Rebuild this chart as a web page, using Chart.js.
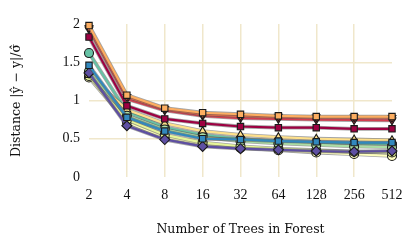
<!DOCTYPE html>
<html><head><meta charset="utf-8">
<script src="https://cdn.jsdelivr.net/npm/chart.js@4/dist/chart.umd.min.js"></script>
<style>html,body{margin:0;padding:0;background:#fff}#wrap{width:415px;height:248px}</style>
</head><body><div id="wrap"><canvas id="c" width="415" height="248"></canvas></div>
<script>
const categories = ['2','4','8','16','32','64','128','256','512'];
const yTicks = [0, 0.5, 1, 1.5, 2];
const s1 = [1.83, 0.93, 0.76, 0.70, 0.66, 0.645, 0.645, 0.63, 0.63];
const s2 = [1.93, 1.02, 0.87, 0.80, 0.77, 0.76, 0.75, 0.745, 0.74];
const s3 = [1.95, 1.05, 0.89, 0.82, 0.80, 0.79, 0.78, 0.78, 0.775];
const s4 = [1.98, 1.07, 0.90, 0.84, 0.82, 0.80, 0.79, 0.79, 0.79];
const s5 = [1.33, 0.88, 0.70, 0.60, 0.55, 0.52, 0.50, 0.49, 0.48];
const s6 = [1.30, 0.72, 0.52, 0.43, 0.38, 0.35, 0.32, 0.30, 0.275];
const s7 = [1.32, 0.75, 0.55, 0.45, 0.40, 0.37, 0.35, 0.33, 0.32];
const s8 = [1.38, 0.80, 0.62, 0.52, 0.47, 0.44, 0.42, 0.40, 0.39];
const s9 = [1.62, 0.85, 0.65, 0.55, 0.50, 0.47, 0.45, 0.44, 0.43];
const s10 = [1.46, 0.78, 0.60, 0.50, 0.49, 0.47, 0.46, 0.45, 0.45];
const s11 = [1.36, 0.67, 0.49, 0.40, 0.37, 0.355, 0.34, 0.33, 0.34];
const seriesValues = [s1,s2,s3,s4,s5,s6,s7,s8,s9,s10,s11];
const seriesColors = ['#9e0142','#d53e4f','#f46d43','#fdae61','#fee08b','#ffffbf','#e6f598','#abdda4','#66c2a5','#3288bd','#5e4fa2'];
const seriesMarkers = ['rect','triangle','triangle','rect','triangle','circle','circle','circle','circle','rect','rectRot'];
const seriesRot = [0,180,180,0,0,0,0,0,0,0,0];
const drawOrder = [3,5,4,0,7,9,8,6,10,1,2]; // lower = on top

const datasets = seriesValues.map((v,i)=>({
  label: 'series ' + (i+1),
  data: v,
  borderColor: seriesColors[i],
  borderWidth: 2.2,
  pointStyle: seriesMarkers[i],
  pointRotation: seriesRot[i],
  pointRadius: seriesMarkers[i]==='rectRot' ? 5 : 4.5,
  pointBackgroundColor: seriesColors[i],
  pointBorderColor: '#1a1a1a',
  pointBorderWidth: 1.1,
  order: drawOrder[i],
  clip: false,
  tension: 0
}));

const outline = {
  id: 'outline',
  beforeDatasetDraw(chart, args) {
    const ctx = chart.ctx, pts = args.meta.data;
    ctx.save();
    ctx.strokeStyle = 'rgba(90,90,90,0.55)';
    ctx.lineWidth = 3.8;
    ctx.lineJoin = 'round';
    ctx.beginPath();
    pts.forEach((p,i)=> i ? ctx.lineTo(p.x,p.y) : ctx.moveTo(p.x,p.y));
    ctx.stroke();
    ctx.restore();
  }
};

const gridCol = '#f0e7cb';
const tickFont = {family: "'Liberation Serif', serif", size: 14};
const titleFont = {family: "'DejaVu Serif', serif", size: 12.5};
new Chart(document.getElementById('c'), {
  type: 'line',
  data: {labels: categories, datasets},
  plugins: [outline],
  options: {
    responsive: false,
    animation: false,
    layout: {padding: {top: 24, right: 23, left: 0, bottom: 0}},
    plugins: {legend: {display: false}, tooltip: {enabled: false}},
    scales: {
      x: {
        offset: false,
        grid: {color: c => (c.index === 0 || c.index === categories.length-1) ? 'rgba(0,0,0,0)' : gridCol, lineWidth: 1.5, drawTicks: false},
        border: {display: false},
        ticks: {color: '#111', font: tickFont, padding: 10, maxRotation: 0},
        title: {display: true, text: 'Number of Trees in Forest', color: '#111', font: titleFont, padding: {top: 0, bottom: 11}},
        afterFit: s => { s.height = 71; }
      },
      y: {
        min: 0, max: 2,
        afterBuildTicks: s => { s.ticks = yTicks.map(v => ({value: v})); },
        grid: {color: c => (c.index === 0 || c.index === yTicks.length-1) ? 'rgba(0,0,0,0)' : gridCol, lineWidth: 1.5, drawTicks: false},
        border: {display: false},
        ticks: {color: '#111', font: tickFont, padding: 9, callback: v => String(v)},
        title: {display: true, text: 'Distance |ŷ − y|/σ̂', color: '#111', font: titleFont, padding: {top: 9.5, bottom: 0}},
        afterFit: s => { s.width = 89; }
      }
    }
  }
});
</script></body></html>
